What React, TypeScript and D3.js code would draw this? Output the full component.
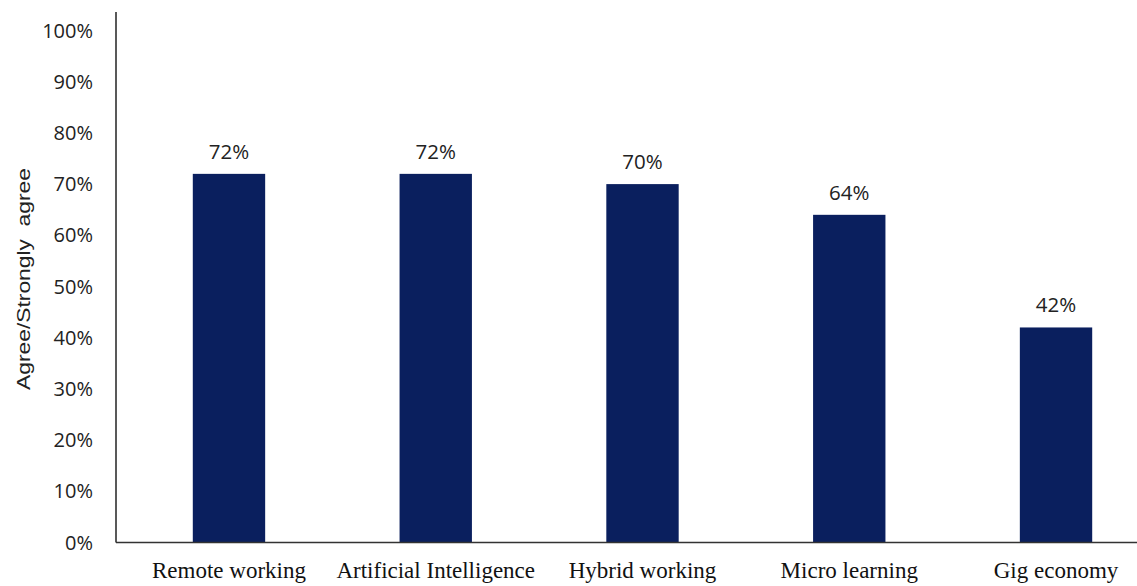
import React from "react";
import * as d3 from "d3";

const categories = ["Remote working", "Artificial Intelligence", "Hybrid working", "Micro learning", "Gig economy"];
const values = [72, 72, 70, 64, 42];
const tickValues = [0, 10, 20, 30, 40, 50, 60, 70, 80, 90, 100];
const yTitle = "Agree/Strongly  agree";

const W = 1137;
const H = 586;

export default function App() {
  const x = d3
    .scaleBand<string>()
    .domain(categories)
    .range([125.6, 1159.4])
    .paddingInner(0.65)
    .paddingOuter(0.325);
  const y = d3.scaleLinear().domain([0, 100]).range([542.5, 30.5]);
  const axisX = 116;
  const baseY = y(0);

  return (
    <svg
      width={W}
      height={H}
      style={{ position: "absolute", left: 0, top: 0, background: "#fff" }}
    >
      {/* bars */}
      {categories.map((c, i) => (
        <rect
          key={c}
          x={x(c)}
          y={y(values[i])}
          width={x.bandwidth()}
          height={baseY - y(values[i])}
          fill="#0a1f5e"
        />
      ))}
      {/* value labels */}
      {categories.map((c, i) => (
        <text
          key={"v" + c}
          x={(x(c) as number) + x.bandwidth() / 2}
          y={y(values[i]) - 15}
          textAnchor="middle"
          fontFamily="'Open Sans', sans-serif"
          fontSize={20.5}
          fill="#222"
        >
          {values[i]}%
        </text>
      ))}
      {/* axes */}
      <line x1={axisX} x2={axisX} y1={12} y2={baseY} stroke="#222" strokeWidth={1.5} />
      <line x1={axisX} x2={W} y1={baseY} y2={baseY} stroke="#333" strokeWidth={1.5} />
      {/* y tick labels */}
      {tickValues.map((t) => (
        <text
          key={"t" + t}
          x={93}
          y={y(t)}
          dy="0.35em"
          textAnchor="end"
          fontFamily="'Open Sans', sans-serif"
          fontSize={20}
          fill="#222"
        >
          {t}%
        </text>
      ))}
      {/* category labels */}
      {categories.map((c) => (
        <text
          key={"c" + c}
          x={(x(c) as number) + x.bandwidth() / 2}
          y={578}
          textAnchor="middle"
          fontFamily="'Liberation Serif', 'Times New Roman', serif"
          fontSize={23}
          fill="#111"
        >
          {c}
        </text>
      ))}
      {/* y title */}
      <text
        transform={`translate(30, 279) rotate(-90)`}
        textAnchor="middle"
        fontFamily="'Liberation Sans', Arial, sans-serif"
        fontSize={19}
        fill="#222"
        style={{ whiteSpace: "pre" }}
        textLength={222}
        lengthAdjust="spacingAndGlyphs"
      >
        {yTitle}
      </text>
    </svg>
  );
}
